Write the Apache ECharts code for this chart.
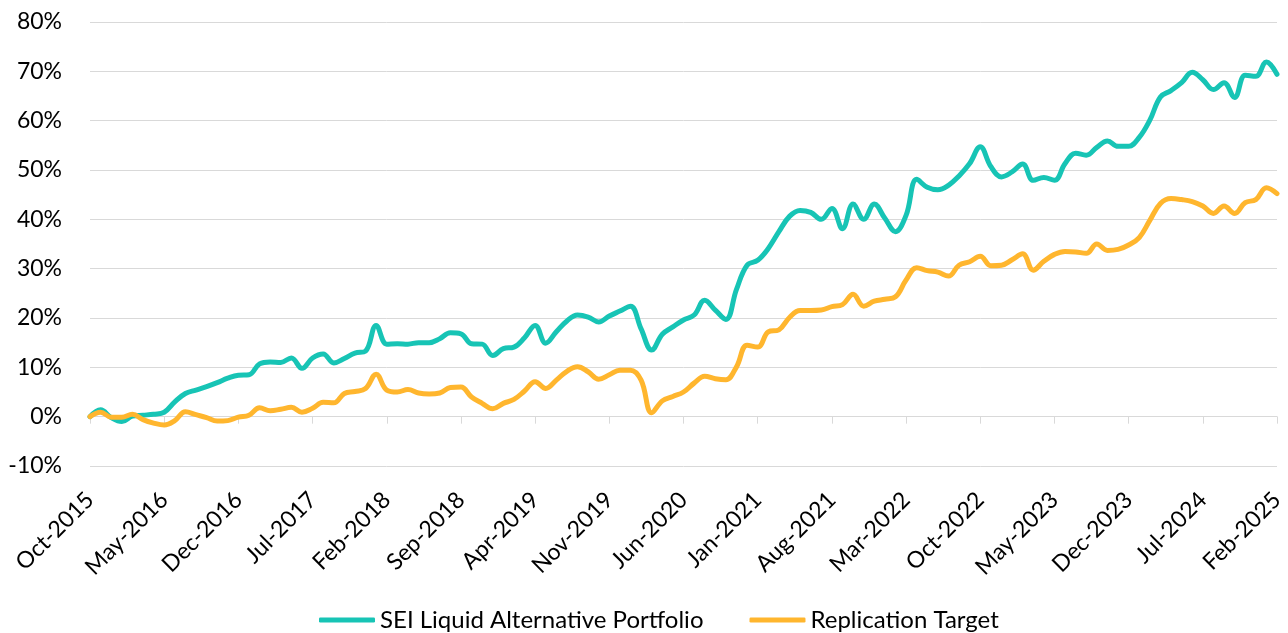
<!DOCTYPE html>
<html>
<head>
<meta charset="utf-8">
<script src="https://cdn.jsdelivr.net/npm/echarts@6/dist/echarts.min.js"></script>
<style>
  html, body {margin: 0; padding: 0; background: #fff;}
  #chart {width: 1288px; height: 633px;}
</style>
</head>
<body>
<div id="chart"></div>
<script>
// month labels Oct-2015 .. Feb-2025
const monthNames = ['Jan', 'Feb', 'Mar', 'Apr', 'May', 'Jun', 'Jul', 'Aug', 'Sep', 'Oct', 'Nov', 'Dec'];
const categories = [];
for (let y = 2015, m = 9; y < 2025 || m <= 1; ) {
  categories.push(monthNames[m] + '-' + y);
  m++;
  if (m > 11) { m = 0; y++; }
}

// cumulative return, %
const seiPortfolio = [
  0, 1.4, -0.2, -1.0, 0.1, 0.3, 0.5, 0.9, 3.0, 4.7,
  5.4, 6.1, 6.9, 7.8, 8.4, 8.5, 10.7, 11.1, 11.0, 11.9,
  9.8, 11.9, 12.7, 10.9, 11.8, 12.9, 13.3, 18.5, 14.7, 14.8,
  14.7, 15.0, 15.0, 15.8, 17.0, 16.8, 14.8, 14.7, 12.4, 13.8,
  14.1, 16.0, 18.5, 14.9, 17.2, 19.4, 20.6, 20.2, 19.2, 20.4,
  21.4, 22.4, 17.8, 13.5, 16.7, 18.2, 19.6, 20.6, 23.6, 21.6,
  19.7, 25.8, 30.7, 31.7, 34.1, 37.5, 40.6, 41.8, 41.4, 40.0,
  42.2, 38.1, 43.1, 40.0, 43.1, 40.2, 37.5, 40.8, 48.1, 46.5,
  46.0, 46.9, 48.8, 51.3, 54.7, 50.7, 48.6, 49.6, 51.2, 47.9,
  48.5, 47.9, 51.3, 53.4, 53.0, 54.6, 55.9, 54.8, 54.8, 56.6,
  60.1, 64.8, 66.1, 67.7, 69.8, 68.3, 66.3, 67.7, 64.7, 69.2,
  69.0, 71.9, 69.4
];

const replicationTarget = [
  0, 0.9, -0.1, -0.1, 0.5, -0.6, -1.3, -1.7, -0.8, 1.0,
  0.4, -0.2, -0.9, -0.8, -0.1, 0.3, 1.8, 1.2, 1.5, 1.9,
  0.9, 1.7, 2.9, 2.8, 4.7, 5.1, 5.7, 8.6, 5.4, 5.0,
  5.5, 4.8, 4.6, 4.8, 5.9, 6.0, 4.0, 2.7, 1.6, 2.7,
  3.5, 5.2, 7.1, 5.7, 7.4, 9.2, 10.1, 9.1, 7.6, 8.5,
  9.4, 9.4, 7.4, 0.8, 3.2, 4.1, 5.0, 6.8, 8.2, 7.7,
  7.5, 10.1, 14.5, 14.1, 17.2, 17.6, 20.1, 21.5, 21.5, 21.6,
  22.3, 22.7, 24.8, 22.4, 23.4, 23.8, 24.3, 27.7, 30.2, 29.6,
  29.3, 28.5, 30.7, 31.4, 32.5, 30.6, 30.7, 31.8, 33.0, 29.7,
  31.5, 32.9, 33.5, 33.4, 33.1, 35.0, 33.7, 33.9, 34.8, 36.3,
  39.8, 43.2, 44.2, 44.0, 43.6, 42.7, 41.2, 42.7, 41.2, 43.4,
  44.0, 46.4, 45.2
];

const seriesNames = ['SEI Liquid Alternative Portfolio', 'Replication Target'];
const colors = ['#17C4B5', '#FFB62E'];

let chart = echarts.init(document.getElementById('chart'));

let option = {
  animation: false,
  textStyle: {fontFamily: 'Lato'},
  grid: {
    left: 90,
    right: 11,
    top: 22,
    bottom: 167,
  },
  legend: {
    left: 314,
    top: 603,
    icon: 'roundRect',
    itemWidth: 56,
    itemHeight: 5,
    itemGap: 46,
    textStyle: {fontFamily: 'Lato', fontSize: 24, color: '#000'},
    data: seriesNames,
  },
  xAxis: {
    type: 'category',
    boundaryGap: false,
    data: categories,
    axisLine: {onZero: true, lineStyle: {color: '#d9d9d9', width: 1}},
    axisTick: {show: true, interval: 6, length: 7, lineStyle: {color: '#d9d9d9'}},
    axisLabel: {
      interval: 6,
      rotate: 45,
      margin: 30,
      fontFamily: 'Lato',
      fontSize: 23,
      color: '#000',
    },
  },
  yAxis: {
    type: 'value',
    min: -10,
    max: 80,
    interval: 10,
    axisLine: {show: false},
    axisTick: {show: false},
    axisLabel: {
      formatter: '{value}%',
      margin: 28,
      fontFamily: 'Lato',
      fontSize: 23,
      color: '#000',
    },
    splitLine: {lineStyle: {color: '#d9d9d9', width: 1}},
  },
  series: [
    {
      name: seriesNames[0],
      type: 'line',
      smooth: 0.4,
      showSymbol: false,
      symbol: 'none',
      color: colors[0],
      lineStyle: {width: 5, color: colors[0], cap: 'round', join: 'round'},
      data: seiPortfolio,
    },
    {
      name: seriesNames[1],
      type: 'line',
      smooth: 0.4,
      showSymbol: false,
      symbol: 'none',
      color: colors[1],
      lineStyle: {width: 5, color: colors[1], cap: 'round', join: 'round'},
      data: replicationTarget,
    },
  ]
};

chart.setOption(option);
</script>
</body>
</html>
